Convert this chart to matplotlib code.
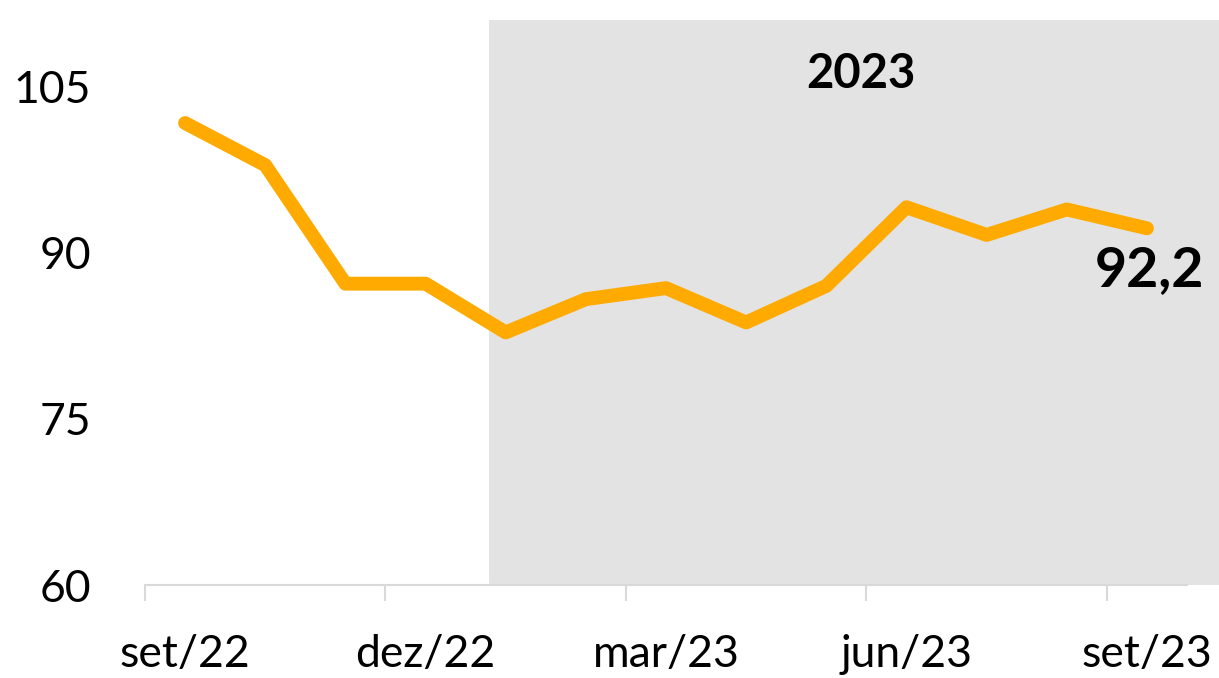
import matplotlib
matplotlib.use("Agg")
import matplotlib.pyplot as plt

months = ["set/22", "out/22", "nov/22", "dez/22", "jan/23", "fev/23", "mar/23",
          "abr/23", "mai/23", "jun/23", "jul/23", "ago/23", "set/23"]
values = [101.7, 97.9, 87.2, 87.2, 82.8, 85.8, 86.8, 83.7, 87.0, 94.1, 91.6, 93.9, 92.2]
yticks = [60, 75, 90, 105]
shade_label = "2023"
last_label = "92,2"

plt.rcParams['font.family'] = ['Lato', 'DejaVu Sans']

fig = plt.figure(figsize=(12.19, 6.78), dpi=100)
ax = fig.add_axes([145/1219, 1 - 585/678, (1187-145)/1219, (585-20)/678])

x = list(range(len(months)))
ax.set_xlim(-0.5, len(months) - 0.5)
ax.set_ylim(60, 111.0)

ax.axvspan(3.79, 13.2, color="#e3e3e3", zorder=0, clip_on=False, lw=0)
ax.plot(x, values, color="#FFAA00", lw=10, solid_capstyle="round",
        solid_joinstyle="round", zorder=3)

ax.text(8.43, 106.1, shade_label, ha="center", va="center",
        fontsize=34, fontweight="bold", color="black")
ax.text(x[-1] + 0.03, values[-1] - 3.8, last_label, ha="center", va="center",
        fontsize=40, fontweight="bold", color="black", clip_on=False)

for s in ["top", "right", "left"]:
    ax.spines[s].set_visible(False)
ax.spines["bottom"].set_color("#d9d9d9")
ax.spines["bottom"].set_linewidth(1.5)

ax.set_yticks(yticks)
ax.set_yticklabels([str(v) for v in yticks], fontsize=32)
ax.tick_params(axis="y", length=0, pad=39)

major_pos = [i - 0.5 for i in range(0, len(months), 3)]
ax.set_xticks(major_pos)
ax.set_xticklabels([])
ax.tick_params(axis="x", which="major", length=11.5, width=1.5, color="#d9d9d9", direction="out")
ax.set_xticks(list(range(0, len(months), 3)), minor=True)
ax.set_xticklabels([months[i] for i in range(0, len(months), 3)], minor=True, fontsize=32)
ax.tick_params(axis="x", which="minor", length=0, pad=35)

fig.savefig("out.png", dpi=100, facecolor="white")
